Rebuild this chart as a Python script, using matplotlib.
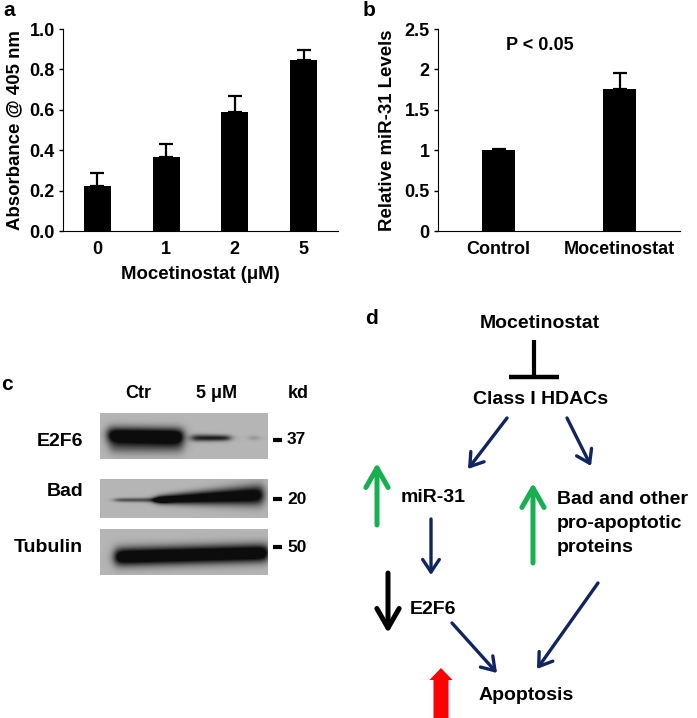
import numpy as np
import matplotlib.pyplot as plt
import matplotlib.patches as mpatches

plt.rcParams['font.family'] = ['Liberation Sans', 'DejaVu Sans']
plt.rcParams['font.weight'] = 'bold'
plt.rcParams['axes.labelweight'] = 'bold'

# panel a - absorbance vs dose
doses = ['0', '1', '2', '5']
absorb = [0.225, 0.365, 0.59, 0.845]
absorb_err = [0.06, 0.065, 0.08, 0.05]

# panel b - miR-31 levels
groups = ['Control', 'Mocetinostat']
mir31 = [1.0, 1.76]
mir31_err = [0.01, 0.20]

# panel c - blot rows and size markers
blot_rows = ['E2F6', 'Bad', 'Tubulin']
blot_kd = ['37', '20', '50']
lanes = ['Ctr', '5 \u03bcM']

W, H = 697, 718
fig = plt.figure(figsize=(W / 100, H / 100), dpi=100)


def px_axes(l, t, r, b):
    return fig.add_axes([l / W, 1 - b / H, (r - l) / W, (b - t) / H])


def style_axes(ax):
    ax.spines['top'].set_visible(False)
    ax.spines['right'].set_visible(False)
    ax.tick_params(axis='x', length=0, pad=7, labelsize=13)
    ax.tick_params(axis='y', length=3, width=1, pad=3, labelsize=13)


# ---- a ----
axa = px_axes(63, 29, 338, 231)
x = np.arange(len(doses))
axa.bar(x, absorb, width=0.39, color='black')
axa.errorbar(x, absorb, yerr=[np.zeros(len(x)), absorb_err], fmt='none',
             ecolor='black', elinewidth=1.6, capsize=5, capthick=1.6)
axa.set_xlim(-0.5, 3.5)
axa.set_ylim(0, 1)
yt = np.arange(0, 1.01, 0.2)
axa.set_yticks(yt, ['%.1f' % v for v in yt])
axa.set_xticks(x, doses)
style_axes(axa)
axa.set_ylabel('Absorbance @ 405 nm', fontsize=13.4, labelpad=4)
axa.set_xlabel('Mocetinostat (\u03bcM)', fontsize=13.4, labelpad=6)

# ---- b ----
axb = px_axes(438, 29, 680, 231)
xb = np.arange(len(groups))
axb.bar(xb, mir31, width=0.28, color='black')
axb.errorbar(xb, mir31, yerr=[np.zeros(len(xb)), mir31_err], fmt='none',
             ecolor='black', elinewidth=1.6, capsize=5, capthick=1.6)
axb.set_xlim(-0.5, 1.5)
axb.set_ylim(0, 2.5)
axb.set_yticks([0, 0.5, 1, 1.5, 2, 2.5], ['0', '0.5', '1', '1.5', '2', '2.5'])
axb.set_xticks(xb, groups)
style_axes(axb)
axb.set_ylabel('Relative miR-31 Levels', fontsize=13.4, labelpad=6)

# ---- overlay for c and d ----
ov = fig.add_axes([0, 0, 1, 1])
ov.axis('off')

fs = 14
ov.text(9, 11, 'a', fontsize=15, ha='center', va='center')
ov.text(369, 11, 'b', fontsize=15, ha='center', va='center')
ov.text(7, 385, 'c', fontsize=15, ha='center', va='center')
ov.text(371, 318, 'd', fontsize=15, ha='center', va='center')
ov.text(540, 46, 'P < 0.05', fontsize=13, ha='center', va='center')


def blot(w, h, bands, bg=0.71):
    # each band: x0, x1, centre y at x0 / x1, half thickness at x0 / x1, darkness
    xx, yy = np.meshgrid(np.arange(w) + 0.5, np.arange(h) + 0.5)
    dark = np.zeros((h, w))
    for x0, x1, yc0, yc1, h0, h1, d in bands:
        t = np.clip((xx - x0) / (x1 - x0), 0, 1)
        yc = yc0 + (yc1 - yc0) * t
        hh = h0 + (h1 - h0) * t
        fx = 1 / (1 + np.exp(-(xx - x0) / 2.5)) / (1 + np.exp(-(x1 - xx) / 2.5))
        fy = np.exp(-((yy - yc) / hh) ** 2)
        dark = dark + d * fx * fy
    dark = np.clip(dark, 0, 1)
    return bg - (bg - 0.05) * dark


boxes = [(100, 413, 168, 46), (100, 479, 168, 39), (100, 529, 168, 46)]
band_sets = [
    [(8, 83, 22, 23, 8, 8, 1.3), (10, 83, 33, 33, 8, 8, 0.5),
     (92, 130, 25, 25, 3.5, 3, 0.9), (150, 158, 25, 25, 2.5, 2.5, 0.25)],
    [(15, 70, 21, 21, 2, 2.5, 0.6), (55, 163, 21, 16, 4, 10, 1.3)],
    [(15, 168, 28, 24, 9, 9, 1.4)],
]
for (bx, by, bw, bh), bands in zip(boxes, band_sets):
    ov.imshow(blot(bw, bh, bands), cmap='gray', vmin=0, vmax=1,
              extent=(bx, bx + bw, by + bh, by), interpolation='bilinear')

label_y = [442, 491, 548]
kd_y = [440, 499, 547]
for name, ly, kd, ky in zip(blot_rows, label_y, blot_kd, kd_y):
    ov.text(83, ly, name, fontsize=fs, ha='right', va='center')
    ov.plot([273, 282], [ky, ky], color='black', lw=3, solid_capstyle='butt')
    ov.text(287, ky, kd, fontsize=12.5, ha='left', va='center')
for name, lx in zip(lanes, [138, 217]):
    ov.text(lx, 393, name, fontsize=13, ha='center', va='center')
ov.text(298, 393, 'kd', fontsize=13, ha='center', va='center')

# ---- d: pathway ----
navy = '#10245f'
green = '#16b04f'


def arrow(p0, p1, color, lw, hl, hw):
    ov.annotate('', xy=p1, xytext=p0,
                arrowprops=dict(arrowstyle='->,head_length=%s,head_width=%s' % (hl, hw),
                                color=color, lw=lw, shrinkA=0, shrinkB=0,
                                mutation_scale=10))


ov.text(540, 323, 'Mocetinostat', fontsize=fs, ha='center', va='center')
ov.plot([534, 534], [340, 377], color='black', lw=3, solid_capstyle='butt')
ov.plot([509, 559], [377, 377], color='black', lw=3.2, solid_capstyle='butt')
ov.text(541, 400, 'Class I HDACs', fontsize=fs, ha='center', va='center')

arrow((507, 418), (468, 469), navy, 2.4, 0.9, 0.6)
arrow((567, 418), (591, 466), navy, 2.4, 0.9, 0.6)
arrow((431, 519), (431, 575), navy, 2.4, 0.9, 0.6)
arrow((452, 623), (497, 673), navy, 2.4, 0.9, 0.6)
arrow((598, 583), (537, 669), navy, 2.4, 0.9, 0.6)

arrow((377, 525), (377, 463), green, 3.6, 1.4, 0.8)
arrow((533, 563), (533, 483), green, 3.6, 1.4, 0.8)
arrow((388, 573), (388, 633), 'black', 3.6, 1.4, 0.8)

ov.add_patch(mpatches.FancyArrow(441, 718, 0, -50, width=15, head_width=23,
                                 head_length=12, length_includes_head=True,
                                 color='#ff0000', lw=0))

ov.text(433, 497, 'miR-31', fontsize=fs, ha='center', va='center')
ov.text(557, 500, 'Bad and other', fontsize=fs, ha='left', va='center')
ov.text(557, 524, 'pro-apoptotic', fontsize=fs, ha='left', va='center')
ov.text(557, 548, 'proteins', fontsize=fs, ha='left', va='center')
ov.text(410, 610, 'E2F6', fontsize=fs, ha='left', va='center')
ov.text(526, 695, 'Apoptosis', fontsize=fs, ha='center', va='center')

ov.set_xlim(0, W)
ov.set_ylim(H, 0)
ov.set_aspect('auto')

fig.savefig('out.png', dpi=100)
